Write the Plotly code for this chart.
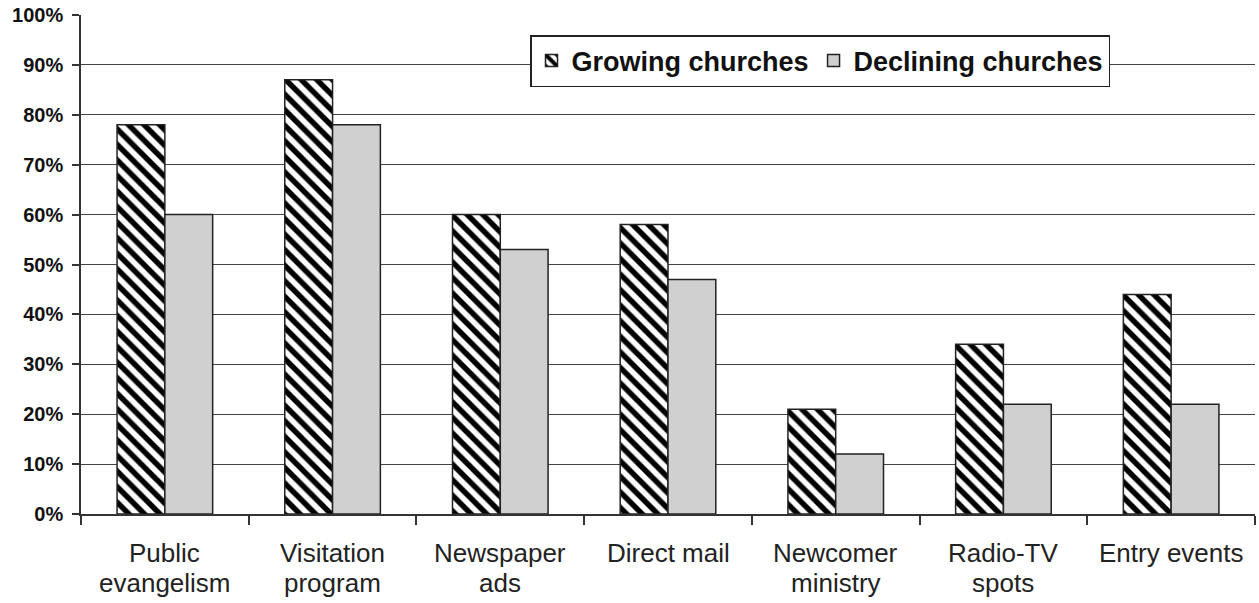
import plotly.graph_objects as go

categories = ["Public evangelism", "Visitation program", "Newspaper ads",
              "Direct mail", "Newcomer ministry", "Radio-TV spots", "Entry events"]
# how each category label wraps under the axis
category_lines = [["Public", "evangelism"], ["Visitation", "program"], ["Newspaper", "ads"],
                  ["Direct mail"], ["Newcomer", "ministry"], ["Radio-TV", "spots"], ["Entry events"]]
growing = [78, 87, 60, 58, 21, 34, 44]
declining = [60, 78, 53, 47, 12, 22, 22]
y_ticks = list(range(0, 101, 10))
y_tick_labels = [f"{v}%" for v in y_ticks]

W, H = 1259, 603
L, R, T, B = 81, 4, 15, 89
PLOT_H = H - T - B

FONT = "Liberation Sans, Arial, sans-serif"

fig = go.Figure()
fig.add_trace(go.Bar(
    name="Growing churches", x=categories, y=growing,
    marker=dict(color="white", line=dict(color="#222", width=1.5),
                pattern=dict(shape="\\", fgcolor="black", bgcolor="white",
                             size=11, solidity=0.5, fillmode="replace", fgopacity=1)),
))
fig.add_trace(go.Bar(
    name="Declining churches", x=categories, y=declining,
    marker=dict(color="#d0d0d0", line=dict(color="#222", width=1.5)),
))

fig.update_layout(
    width=W, height=H,
    margin=dict(l=L, r=R, t=T, b=B, pad=0),
    paper_bgcolor="white", plot_bgcolor="white",
    barmode="group", bargap=0.43, bargroupgap=0,
    font=dict(family=FONT, color="#111"),
    legend=dict(
        orientation="h", x=(530 - L) / (W - L - R), y=(H - B - 35) / PLOT_H,
        xanchor="left", yanchor="top",
        bgcolor="white", bordercolor="#222", borderwidth=1.5,
        font=dict(size=27, family=FONT, color="#111", weight="bold"),
        traceorder="normal",
    ),
    showlegend=True,
)

fig.update_yaxes(
    range=[0, 100], tickvals=y_ticks, ticktext=y_tick_labels,
    showgrid=True, gridcolor="#444", gridwidth=1.3,
    showline=True, linecolor="#333", linewidth=1.5,
    ticks="outside", ticklen=7, tickcolor="#333", tickwidth=1.5,
    ticklabelstandoff=5,
    tickfont=dict(size=20, weight="bold", color="#111"),
    zeroline=False,
)
fig.update_xaxes(
    showline=True, linecolor="#333", linewidth=1.5,
    ticks="outside", ticklen=9, tickcolor="#333", tickwidth=1.5,
    tickson="boundaries", showticklabels=False,
    showgrid=False,
)

# category labels, one annotation per line for wider line spacing
line_centers = [553, 583]
for cat, lines in zip(categories, category_lines):
    for i, txt in enumerate(lines):
        fig.add_annotation(
            text=txt, x=cat, xref="x", yref="paper",
            y=(H - B - line_centers[i]) / PLOT_H,
            xanchor="center", yanchor="middle", showarrow=False,
            font=dict(size=26, family=FONT, color="#222"),
        )

# partial tick label clipped at the bottom edge of the page
fig.add_annotation(
    text="<b>50%</b>", xref="paper", yref="paper",
    x=(43 - L) / (W - L - R), y=(H - B - 598) / PLOT_H,
    xanchor="center", yanchor="top", showarrow=False,
    font=dict(size=20, family=FONT, color="#111"),
)

fig.write_html("out.html")
